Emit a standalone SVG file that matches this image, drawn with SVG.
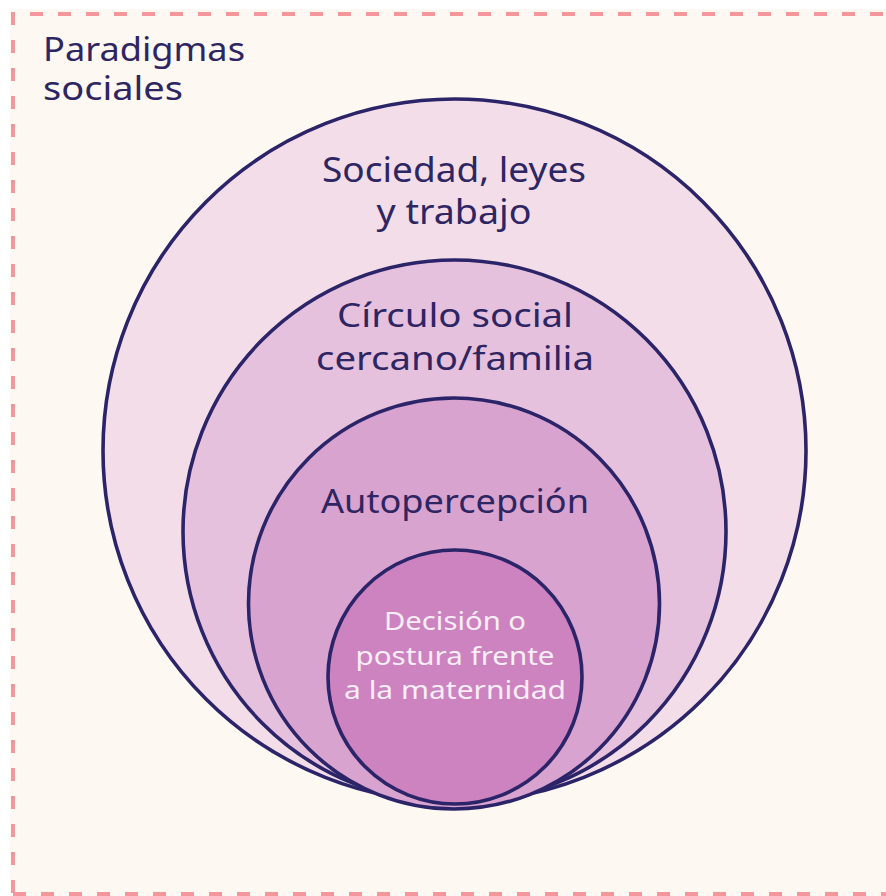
<svg xmlns="http://www.w3.org/2000/svg" width="886" height="896" viewBox="0 0 886 896">
<style>
.ring{stroke:#2c2468;stroke-width:3.6}
.lbl{font-family:"Noto Sans","Open Sans",sans-serif;fill:#2e2563;text-anchor:middle}
.lbl-in{font-family:"Noto Sans","Open Sans",sans-serif;fill:#f8eef6;text-anchor:middle}
.frame{fill:none;stroke:#f5959c;stroke-width:4;stroke-dasharray:13 15}
</style>
<rect x="0" y="0" width="886" height="896" fill="#ffffff"/>
<rect x="10" y="9" width="876" height="887" fill="#fdf9f2"/>
<path class="frame" d="M13 893 V14 H886"/>
<path class="frame" d="M13 894 H886"/>
<g id="title">
<text class="lbl" x="43" y="61" style="text-anchor:start" font-size="32" textLength="202" lengthAdjust="spacingAndGlyphs">Paradigmas</text>
<text class="lbl" x="43" y="100" style="text-anchor:start" font-size="32" textLength="140" lengthAdjust="spacingAndGlyphs">sociales</text>
</g>
<g id="sociedad">
<circle class="ring" cx="454.5" cy="450.5" r="351.5" fill="#f2dde8"/>
<text class="lbl" x="454" y="182" font-size="34" textLength="264" lengthAdjust="spacingAndGlyphs">Sociedad, leyes</text>
<text class="lbl" x="454" y="224" font-size="34" textLength="155" lengthAdjust="spacingAndGlyphs">y trabajo</text>
</g>
<g id="circulo-social">
<circle class="ring" cx="454.5" cy="531.5" r="271.5" fill="#e6c1dd"/>
<text class="lbl" x="455" y="327" font-size="33" textLength="236" lengthAdjust="spacingAndGlyphs">Círculo social</text>
<text class="lbl" x="455" y="370" font-size="33" textLength="278" lengthAdjust="spacingAndGlyphs">cercano/familia</text>
</g>
<g id="autopercepcion">
<circle class="ring" cx="454" cy="603.5" r="205.5" fill="#d9a3d0"/>
<text class="lbl" x="455" y="513" font-size="33" textLength="268" lengthAdjust="spacingAndGlyphs">Autopercepción</text>
</g>
<g id="decision">
<circle class="ring" cx="455" cy="677" r="127" fill="#cd83c0"/>
<text class="lbl-in" x="455" y="630" font-size="26" textLength="142" lengthAdjust="spacingAndGlyphs">Decisión o</text>
<text class="lbl-in" x="455" y="665" font-size="26" textLength="199" lengthAdjust="spacingAndGlyphs">postura frente</text>
<text class="lbl-in" x="455" y="699" font-size="26" textLength="222" lengthAdjust="spacingAndGlyphs">a la maternidad</text>
</g>
<g id="connectors"/>
</svg>
